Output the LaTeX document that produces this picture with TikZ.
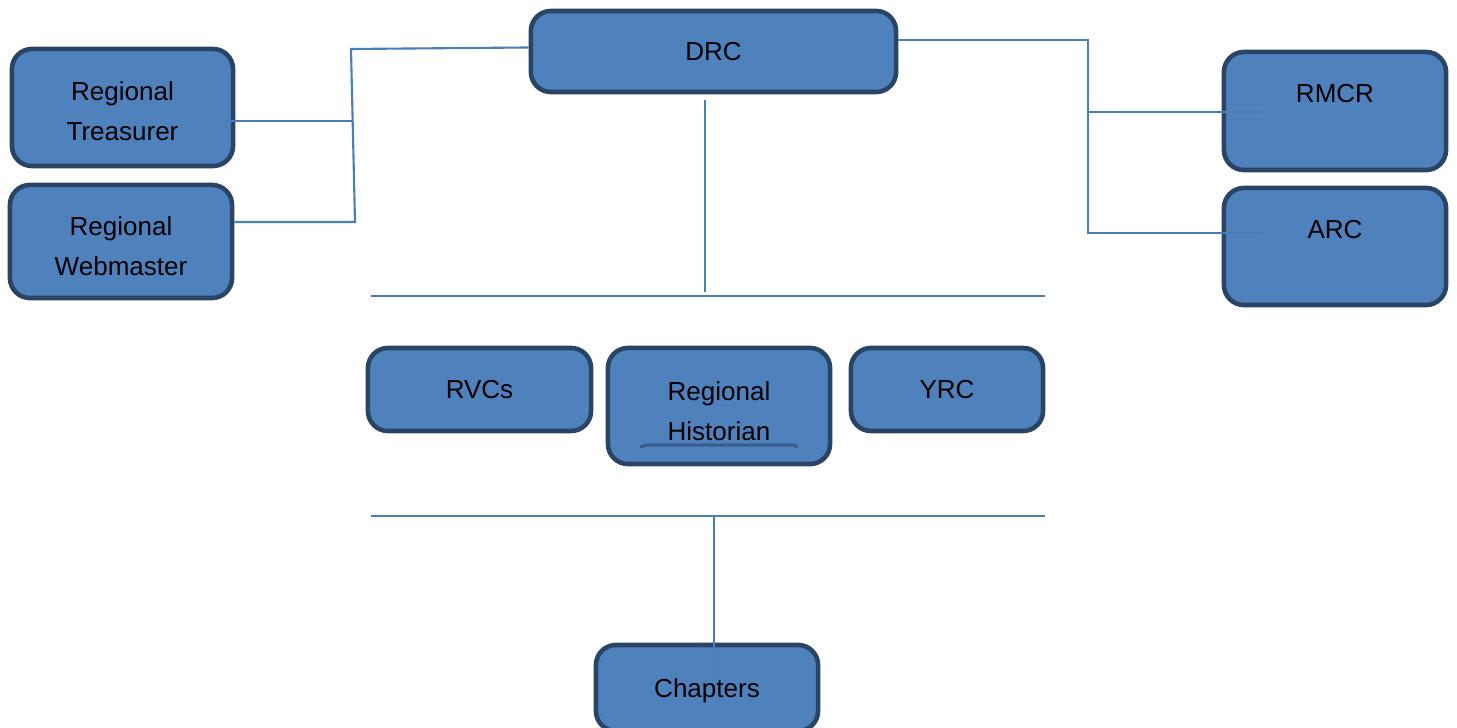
\documentclass[tikz,border=0pt]{standalone}
\usepackage{fontspec}
\setmainfont{Liberation Sans}
\definecolor{boxfill}{HTML}{4F81BD}
\definecolor{boxline}{HTML}{2A4466}
\definecolor{conn}{HTML}{4A7EBB}
\definecolor{histline}{HTML}{3A5F8E}
\begin{document}
\begin{tikzpicture}[x=0.01cm,y=-0.01cm,
  box/.style={draw=boxline, fill=boxfill, line width=1.3pt, rounded corners=0.2cm, inner sep=0pt},
  txt/.style={align=center, inner sep=0pt, font=\fontsize{7.4}{11.4}\selectfont, text=black},
  wire/.style={draw=conn, line width=0.6pt}]
\clip (0,0) rectangle (1457,728);
\fill[white] (0,0) rectangle (1457,728);
% boxes
\node[box, minimum width=2.21cm, minimum height=1.17cm,
  label={[txt,yshift=-0.04cm]center:{Regional\\Treasurer}}] (tre) at (122.5,107.5) {};
\node[box, minimum width=2.22cm, minimum height=1.13cm,
  label={[txt,yshift=-0.05cm]center:{Regional\\Webmaster}}] (web) at (121,241.5) {};
\node[box, minimum width=3.65cm, minimum height=0.81cm,
  label={[txt]center:DRC}] (drc) at (713.5,51.5) {};
\node[box, minimum width=2.22cm, minimum height=1.18cm,
  label={[txt,yshift=0.17cm]center:RMCR}] (rmcr) at (1335,111) {};
\node[box, minimum width=2.22cm, minimum height=1.17cm,
  label={[txt,yshift=0.165cm]center:ARC}] (arc) at (1335,246.5) {};
\node[box, minimum width=2.23cm, minimum height=0.83cm,
  label={[txt]center:RVCs}] (rvc) at (479.5,389.5) {};
\node[box, minimum width=2.22cm, minimum height=1.16cm,
  label={[txt,yshift=-0.05cm]center:{Regional\\Historian}}] (his) at (719,406) {};
\node[box, minimum width=1.92cm, minimum height=0.83cm,
  label={[txt]center:YRC}] (yrc) at (947,389.5) {};
\node[box, minimum width=2.22cm, minimum height=0.86cm,
  label={[txt,yshift=-0.03cm]center:Chapters}] (chap) at (707,688) {};
\draw[histline, line width=0.9pt, line cap=round] (641,447) .. controls (645,445) .. (650,445) -- (790,445) .. controls (795,445) .. (797,447);
% coordinates
\coordinate (lb1) at (351,49);
\coordinate (lbm) at (352,121);
\coordinate (lb2) at (355,222);
\coordinate (rb1) at (1088,40);
\coordinate (rbm) at (1088,112);
\coordinate (rb2) at (1088,233);
\coordinate (d1) at (705,292);
\coordinate (h1a) at (371,296);
\coordinate (h1b) at (1045,296);
\coordinate (h2a) at (371,516);
\coordinate (h2b) at (1045,516);
\coordinate (c3) at (714,516);
% connectors
\draw[wire] ([yshift=0.04cm]drc.west) -- (lb1) -- (lb2) -- (lb2 -| web.east);
\draw[wire] (lbm) -- ([xshift=-0.13cm]tre.east |- lbm);
\draw[wire] (drc.east |- rb1) -- (rb1) -- (rb2) -- ([xshift=0.41cm]arc.west |- rb2);
\draw[wire] (rbm) -- ([xshift=0.41cm]rmcr.west |- rbm);
\draw[wire] ([yshift=-0.06cm]d1 |- drc.south) -- (d1);
\draw[wire] (h1a) -- (h1b);
\draw[wire] (h2a) -- (h2b);
\draw[wire] (c3) -- ([yshift=0.06cm]c3 |- chap.center);
\end{tikzpicture}
\end{document}
